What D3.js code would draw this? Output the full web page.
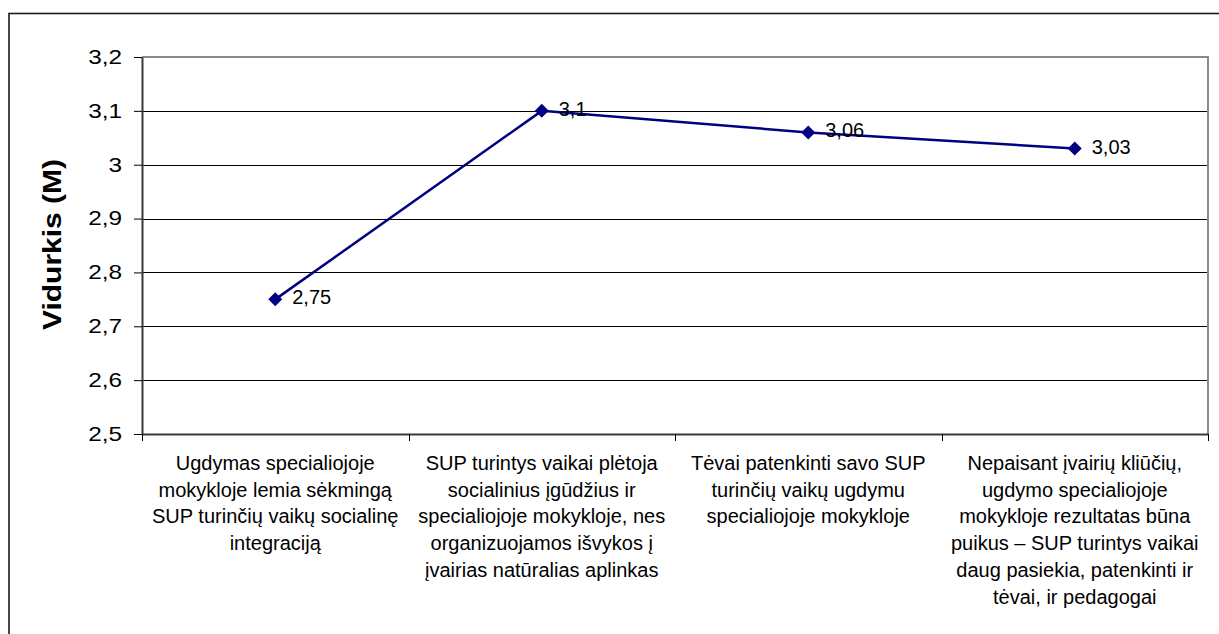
<!DOCTYPE html>
<html>
<head>
<meta charset="utf-8">
<script src="https://cdn.jsdelivr.net/npm/d3@7"></script>
<style>
  html, body { margin: 0; padding: 0; background: #fff; }
  svg { display: block; font-family: "Liberation Sans", Arial, sans-serif; }
</style>
</head>
<body>
<svg id="chart" width="1219" height="634"></svg>
<script>
// ---------- data ----------
const categories = [
  ["Ugdymas specialiojoje", "mokykloje lemia sėkmingą", "SUP turinčių vaikų socialinę", "integraciją"],
  ["SUP turintys vaikai plėtoja", "socialinius įgūdžius ir", "specialiojoje mokykloje, nes", "organizuojamos išvykos į", "įvairias natūralias aplinkas"],
  ["Tėvai patenkinti savo SUP", "turinčių vaikų ugdymu", "specialiojoje mokykloje"],
  ["Nepaisant įvairių kliūčių,", "ugdymo specialiojoje", "mokykloje rezultatas būna", "puikus – SUP turintys vaikai", "daug pasiekia, patenkinti ir", "tėvai, ir pedagogai"]
];
const values = [2.75, 3.1, 3.06, 3.03];
const yTicks = [2.5, 2.6, 2.7, 2.8, 2.9, 3.0, 3.1, 3.2];
const yTitle = "Vidurkis (M)";

// ---------- layout ----------
const W = 1219, H = 634;
const plot = {left: 142, right: 1208, top: 57, bottom: 434};

const svg = d3.select("#chart");

const lt = d3.formatLocale({decimal: ",", thousands: " ", grouping: [3], currency: ["", ""]});
const fmt = lt.format("~g");

// outer frame (only left/top visible)
svg.append("rect")
   .attr("x", 9).attr("y", 13.5)
   .attr("width", W + 20).attr("height", H + 20)
   .attr("fill", "none")
   .attr("stroke", "#1a1a1a")
   .attr("stroke-width", 1.6);

//--------------SCALES---------------------------------------
const x = d3.scaleBand()
            .domain(d3.range(categories.length))
            .range([plot.left, plot.right])
            .padding(0);

const y = d3.scaleLinear()
            .domain([2.5, 3.2])
            .range([plot.bottom, plot.top]);

//--------------GRID----------------------------------------
svg.append("g")
   .selectAll("line")
   .data(yTicks)
   .enter().append("line")
     .attr("x1", plot.left).attr("x2", plot.right)
     .attr("y1", d => Math.round(y(d)) + 0.5)
     .attr("y2", d => Math.round(y(d)) + 0.5)
     .attr("stroke", "#000")
     .attr("stroke-width", 1);

// top + right border of plot area (gray)
svg.append("path")
   .attr("d", `M${plot.left},${plot.top}H${plot.right}V${plot.bottom}`)
   .attr("fill", "none")
   .attr("stroke", "#8a8a8a")
   .attr("stroke-width", 2);

//--------------AXES----------------------------------------
const yAxis = d3.axisLeft(y)
                .tickValues(yTicks)
                .tickFormat(fmt)
                .tickSizeInner(8)
                .tickSizeOuter(0)
                .tickPadding(12);

const gy = svg.append("g")
              .attr("transform", `translate(${plot.left},0)`)
              .call(yAxis);
gy.select(".domain").attr("stroke", "#3a3a3a").attr("stroke-width", 2);
gy.selectAll(".tick line").attr("stroke", "#000");
gy.selectAll(".tick text")
  .attr("font-size", 21)
  .attr("fill", "#000")
  .attr("font-family", "'Liberation Sans', Arial, sans-serif")
  .attr("dy", "0.3em")
  .each(function() {
    const w = this.getComputedTextLength();
    d3.select(this).attr("textLength", w * 1.16).attr("lengthAdjust", "spacingAndGlyphs");
  });

const xAxis = d3.axisBottom(x)
                .tickValues([])
                .tickSizeOuter(0);
const gx = svg.append("g")
              .attr("transform", `translate(0,${plot.bottom})`)
              .call(xAxis);
gx.select(".domain").attr("stroke", "#3a3a3a").attr("stroke-width", 2);

// category boundary ticks
const bounds = d3.range(categories.length + 1).map(i => i < categories.length ? x(i) : plot.right);
gx.selectAll("line.cat")
  .data(bounds)
  .enter().append("line")
    .attr("class", "cat")
    .attr("x1", d => Math.round(d) + 0.5).attr("x2", d => Math.round(d) + 0.5)
    .attr("y1", 0).attr("y2", 7)
    .attr("stroke", "#000");

// category labels
const catG = svg.append("g")
   .selectAll("text")
   .data(categories)
   .enter().append("text")
     .attr("x", (d, i) => x(i) + x.bandwidth() / 2)
     .attr("y", plot.bottom + 36)
     .attr("text-anchor", "middle")
     .attr("font-size", 20)
     .attr("fill", "#000");
catG.selectAll("tspan")
    .data(d => d)
    .enter().append("tspan")
      .attr("x", function() { return d3.select(this.parentNode).attr("x"); })
      .attr("dy", (d, i) => i === 0 ? 0 : 26.7)
      .text(d => d);

// y title
svg.append("text")
   .attr("transform", `translate(61,${(plot.top + plot.bottom) / 2 - 1}) rotate(-90)`)
   .attr("text-anchor", "middle")
   .attr("font-size", 25)
   .attr("font-weight", "bold")
   .attr("textLength", 171)
   .attr("lengthAdjust", "spacingAndGlyphs")
   .text(yTitle);

//-------------SERIES----------------------------------------------
const line = d3.line()
               .x((d, i) => x(i) + x.bandwidth() / 2)
               .y(d => y(d));

svg.append("path")
   .datum(values)
   .attr("fill", "none")
   .attr("stroke", "#000080")
   .attr("stroke-width", 2.5)
   .attr("stroke-linejoin", "round")
   .attr("d", line);

const marker = d3.symbol().type(d3.symbolSquare).size(98);
svg.append("g")
   .selectAll("path")
   .data(values)
   .enter().append("path")
     .attr("transform", (d, i) => `translate(${x(i) + x.bandwidth() / 2},${y(d)}) rotate(45)`)
     .attr("d", marker)
     .attr("fill", "#000080");

svg.append("g")
   .selectAll("text")
   .data(values)
   .enter().append("text")
     .attr("x", (d, i) => x(i) + x.bandwidth() / 2 + 17)
     .attr("y", d => y(d) + 5)
     .attr("font-size", 20)
     .attr("fill", "#000")
     .text(d => fmt(d));
</script>
</body>
</html>
